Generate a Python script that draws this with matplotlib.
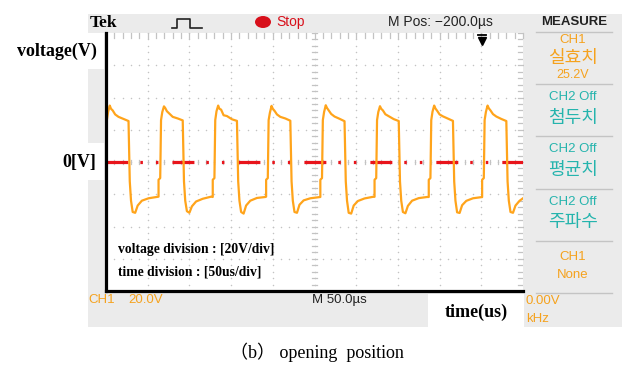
import numpy as np
import matplotlib
matplotlib.use("Agg")
import matplotlib.pyplot as plt
from matplotlib.patches import Rectangle, Ellipse

plt.rcParams['lines.scale_dashes'] = False

# CH1 trace: time in us (50 us/div), voltage in V (20 V/div)
t_us = [0, 1, 2.5, 4.5, 6, 8, 11, 15, 21, 27, 28.5, 30, 32, 35, 38, 43, 51, 61,
        63, 63, 65, 66, 67.5, 69.5, 71, 73, 76, 80, 86, 92, 93.5, 95, 97, 100, 103, 108, 116, 126,
        128, 128, 130, 131, 132.5, 134.5, 136, 138, 141, 145, 151, 157, 158.5, 160, 162, 165, 168, 173, 181, 191,
        192, 192, 194, 195, 196.5, 198.5, 200, 202, 205, 209, 215, 221, 222.5, 224, 226, 229, 232, 237, 245, 255,
        257, 257, 259, 260, 261.5, 263.5, 265, 267, 270, 274, 280, 286, 287.5, 289, 291, 294, 297, 302, 310, 320,
        322, 322, 324, 325, 326.5, 328.5, 330, 332, 335, 339, 345, 351, 352.5, 354, 356, 359, 362, 367, 375, 385,
        387, 387, 389, 390, 391.5, 393.5, 395, 397, 400, 404, 410, 416, 417.5, 419, 421, 424, 427, 432, 440, 450,
        451, 451, 453, 454, 455.5, 457.5, 459, 461, 464, 468, 474, 480, 481.5, 483, 485, 488, 491, 496, 500]
v_volt = [-11, 26, 31, 35, 33, 32, 29.5, 28, 26.7, 25.4, -12, -24, -31, -31.5, -27, -24, -22.5, -21.7,
          -21.5, -11, -10, 26, 31, 34.5, 33.5, 31.5, 30, 28, 27, 25.8, -12, -24, -30.5, -31.5, -27.5, -24.5, -22.8, -21.5,
          -21.7, -11, -10, 26, 31.5, 35, 33, 32.5, 29, 28.5, 26.5, 25.5, -12, -24, -31, -32, -27, -24, -22.3, -21.7,
          -21.5, -11, -10, 26, 30.5, 34.8, 33, 31.8, 29.5, 28, 27, 25.6, -12, -24, -31, -31.5, -26.5, -23.8, -22.5, -21.8,
          -21.7, -11, -10, 26, 31, 35.2, 33.5, 32, 29.8, 28.2, 26.8, 25.3, -12, -24, -31.5, -32, -27, -24.2, -22.6, -21.6,
          -21.6, -11, -10, 26, 31, 34.6, 33, 32, 29.6, 28.4, 26.6, 25.4, -12, -24, -31, -31.8, -27.2, -24, -22.4, -21.7,
          -21.7, -11, -10, 26, 31.2, 35, 33.2, 31.8, 29.5, 28.3, 26.9, 25.5, -12, -24, -31.2, -31.6, -26.8, -24.1, -22.5, -21.8,
          -21.8, -11, -10, 26, 31, 35, 33.3, 32, 29.7, 28.2, 26.7, 25.4, -12, -24, -31, -31.5, -27, -24, -22.5]

zero_line_t = [0, 500]
zero_line_v = [0, 0]

menu_items = [("CH1", "orange", 9.5, 40), ("실효치", "orange", 13, 58), ("25.2V", "orange", 9, 75),
              ("CH2 Off", "teal", 9.5, 97), ("첨두치", "teal", 13, 118),
              ("CH2 Off", "teal", 9.5, 149), ("평균치", "teal", 13, 170),
              ("CH2 Off", "teal", 9.5, 202), ("주파수", "teal", 13, 222),
              ("CH1", "orange", 9.5, 257), ("None", "orange", 9.5, 275)]
menu_lines = [32, 84, 136, 189, 241, 293]

W, H = 633, 367
ORANGE = "#f5a21e"
TEAL = "#25b4ad"
GREY = "#ebebeb"
SANS = ["Liberation Sans", "DejaVu Sans"]
KR = ["Noto Sans CJK KR", "DejaVu Sans"]

fig = plt.figure(figsize=(W / 100, H / 100), dpi=100)

# background canvas in pixel coordinates
bg = fig.add_axes([0, 0, 1, 1])
bg.set_xlim(0, W)
bg.set_ylim(H, 0)
bg.axis("off")

bg.add_patch(Rectangle((88, 14), 534, 313, color=GREY, lw=0))
bg.add_patch(Rectangle((0, 33), 104, 36, color="white", lw=0))
bg.add_patch(Rectangle((0, 143), 104, 37, color="white", lw=0))
bg.add_patch(Rectangle((428, 294), 96, 33, color="white", lw=0))

# top status bar
bg.text(90, 23, "Tek", fontsize=12.5, fontweight="bold", family="Liberation Serif", va="center")
bg.plot([172, 177, 177, 190, 190, 202], [28, 28, 19, 19, 28, 28], color="#222222", lw=1.2)
bg.add_patch(Ellipse((263, 22), 16, 12, color="#d8101b", lw=0))
bg.text(276, 22, "Stop", fontsize=10, color="#d8101b", family=SANS, va="center")
bg.text(388, 22, "M Pos: \u2212200.0\u00b5s", fontsize=10, color="#222222", family=SANS, va="center")
bg.text(574, 22, "MEASURE", fontsize=9.5, fontweight="bold", color="#222222", family=SANS,
        va="center", ha="center")

# measure menu
for y in menu_lines:
    bg.plot([536, 612], [y, y], color="#c4c4c4", lw=1)
for label, col, size, y in menu_items:
    c = ORANGE if col == "orange" else TEAL
    fam = KR if any(ord(ch) > 0x3000 for ch in label) else SANS
    bg.text(573, y, label, fontsize=size, color=c, family=fam, va="center", ha="center")

# bottom readouts
bg.text(88, 300, "CH1", fontsize=9.5, color=ORANGE, family=SANS, va="center")
bg.text(128, 300, "20.0V", fontsize=9.5, color=ORANGE, family=SANS, va="center")
bg.text(312, 300, "M 50.0\u00b5s", fontsize=9.5, color="#222222", family=SANS, va="center")
bg.text(526, 301, "0.00V", fontsize=9.5, color=ORANGE, family=SANS, va="center")
bg.text(526, 319, "kHz", fontsize=9.5, color=ORANGE, family=SANS, va="center")

# paper labels
bg.text(97, 51, "voltage(V)", fontsize=13, fontweight="bold", family="Liberation Serif", va="center", ha="right")
bg.text(96, 162, "0[V]", fontsize=13, fontweight="bold", family="Liberation Serif", va="center", ha="right")
bg.text(476, 312, "time(us)", fontsize=13, fontweight="bold", family="Liberation Serif", va="center", ha="center")
bg.text(317, 352, "\uff08b\uff09 opening  position", fontsize=13,
        family=["Liberation Serif", "Noto Sans CJK KR"], va="center", ha="center")

# scope graticule
ax = fig.add_axes([106 / W, 1 - 291 / H, 417 / W, 258 / H])
ax.set_facecolor("white")
ax.set_xlim(0, 500)
ax.set_ylim(-80, 80)
ax.set_xticks([])
ax.set_yticks([])
for s in ("top", "right"):
    ax.spines[s].set_visible(False)
for s in ("left", "bottom"):
    ax.spines[s].set_linewidth(2.3)
    ax.spines[s].set_color("black")
    ax.spines[s].set_zorder(6)

dot = "#c3c3c3"
xs_fine = np.arange(0, 501, 10)
ys_fine = np.arange(-80, 81, 4)
for gx in range(50, 500, 50):
    ax.scatter(np.full(ys_fine.size, gx), ys_fine, s=1.2, color=dot, lw=0, zorder=1)
for gy in range(-60, 80, 20):
    ax.scatter(xs_fine, np.full(xs_fine.size, gy), s=1.2, color=dot, lw=0, zorder=1)
# centre and edge tick marks
for gy in ys_fine:
    ax.plot([247, 253], [gy, gy], color=dot, lw=0.9, zorder=1)
    ax.plot([494, 500], [gy, gy], color=dot, lw=0.9, zorder=1)
for gx in xs_fine:
    ax.plot([gx, gx], [77, 80], color=dot, lw=0.9, zorder=1, clip_on=False)
    ax.plot([gx, gx], [-1.5, 1.5], color=dot, lw=0.9, zorder=1)

ax.plot(zero_line_t, zero_line_v, color="#e8141b", lw=2.3, zorder=3,
        linestyle=(0, (15.8, 8.6, 1.8, 9.4, 1.8, 10.1)))
ax.plot(t_us, v_volt, color="#ffa41b", lw=1.6, zorder=4)

# trigger position marker
ax.plot([451], [75], marker="v", color="black", markersize=6, zorder=5, clip_on=False)
ax.plot([446, 456], [78.5, 78.5], color="black", lw=1.3, zorder=5, clip_on=False)

ax.text(14, -54, "voltage division : [20V/div]", fontsize=9.8, fontweight="bold",
        family="Liberation Serif", va="center")
ax.text(14, -68, "time division : [50us/div]", fontsize=9.8, fontweight="bold",
        family="Liberation Serif", va="center")

fig.savefig("out.png", dpi=100)
